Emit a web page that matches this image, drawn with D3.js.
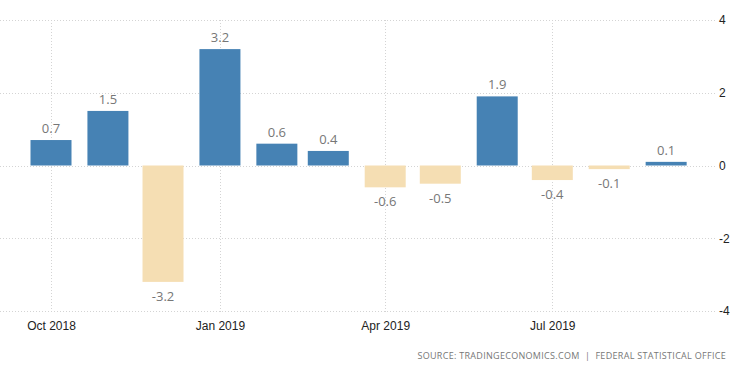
<!DOCTYPE html>
<meta charset="utf-8">
<title>Monthly change</title>
<style>
body { margin: 0; background: #fff; }
svg { font-family: "Open Sans", sans-serif; }
.grid line { stroke: #d4d4d4; stroke-dasharray: 1,2; shape-rendering: crispEdges; }
.axis text { fill: #222; font-size: 12px; }
.axis path, .axis line { display: none; }
.value { fill: #777; font-size: 13px; text-anchor: middle; }
.source { fill: #777; font-size: 9px; letter-spacing: 0.3px; text-anchor: end; white-space: pre; }
</style>
<body>
<script src="https://d3js.org/d3.v7.min.js"></script>
<script>

var months = ["2018-10", "2018-11", "2018-12", "2019-01", "2019-02", "2019-03",
              "2019-04", "2019-05", "2019-06", "2019-07", "2019-08", "2019-09"];
var values = [0.7, 1.5, -3.2, 3.2, 0.6, 0.4, -0.6, -0.5, 1.9, -0.4, -0.1, 0.1];
var yTicks = [4, 2, 0, -2, -4];
var xTicks = ["2018-10", "2019-01", "2019-04", "2019-07"];

var width = 750, height = 373;
var parse = d3.timeParse("%Y-%m");
var data = months.map(function(m, i) { return {date: parse(m), value: values[i]}; });

// plain hyphen for negatives, like the original
var fmt1 = function(v) { return d3.format(".1f")(v).replace("\u2212", "-"); };
var fmt0 = function(v) { return d3.format("d")(v).replace("\u2212", "-"); };

var x = d3.scaleTime()
    .domain([parse("2018-10"), parse("2019-07")])
    .range([51, 552.3]);

var y = d3.scaleLinear()
    .domain([-4, 4])
    .range([311, 20]);

var svg = d3.select("body").append("svg")
    .attr("width", width)
    .attr("height", height);

// horizontal grid
svg.append("g")
    .attr("class", "grid")
  .selectAll("line")
    .data(yTicks)
  .enter().append("line")
    .attr("x1", 0)
    .attr("x2", 715)
    .attr("y1", function(d) { return Math.round(y(d)) + 0.5; })
    .attr("y2", function(d) { return Math.round(y(d)) + 0.5; });

// vertical grid
svg.append("g")
    .attr("class", "grid")
  .selectAll("line")
    .data(xTicks.map(parse))
  .enter().append("line")
    .attr("x1", function(d) { return Math.round(x(d)) + 0.5; })
    .attr("x2", function(d) { return Math.round(x(d)) + 0.5; })
    .attr("y1", y(4))
    .attr("y2", y(-4) + 3);

var barWidth = 41;

svg.append("g")
  .selectAll("rect")
    .data(data)
  .enter().append("rect")
    .attr("x", function(d) { return x(d.date) - barWidth / 2; })
    .attr("width", barWidth)
    .attr("y", function(d) { return y(Math.max(0, d.value)); })
    .attr("height", function(d) { return Math.abs(y(d.value) - y(0)); })
    .attr("fill", function(d) { return d.value >= 0 ? "#4682b4" : "#f5deb3"; });

svg.append("g")
  .selectAll("text")
    .data(data)
  .enter().append("text")
    .attr("class", "value")
    .attr("x", function(d) { return x(d.date); })
    .attr("y", function(d) { return d.value >= 0 ? y(d.value) - 7 : y(d.value) + 19; })
    .text(function(d) { return fmt1(d.value); });

// right axis
svg.append("g")
    .attr("class", "axis")
    .attr("transform", "translate(710,0)")
    .call(d3.axisRight(y).tickValues(yTicks).tickSize(0).tickPadding(9).tickFormat(fmt0));

// bottom axis
svg.append("g")
    .attr("class", "axis")
    .attr("transform", "translate(0," + y(-4) + ")")
    .call(d3.axisBottom(x).tickValues(xTicks.map(parse)).tickSize(0).tickPadding(10)
      .tickFormat(d3.timeFormat("%b %Y")));

svg.append("text")
    .attr("class", "source")
    .attr("x", 726)
    .attr("y", 359)
    .text("SOURCE: TRADINGECONOMICS.COM  |  FEDERAL STATISTICAL OFFICE");

</script>
